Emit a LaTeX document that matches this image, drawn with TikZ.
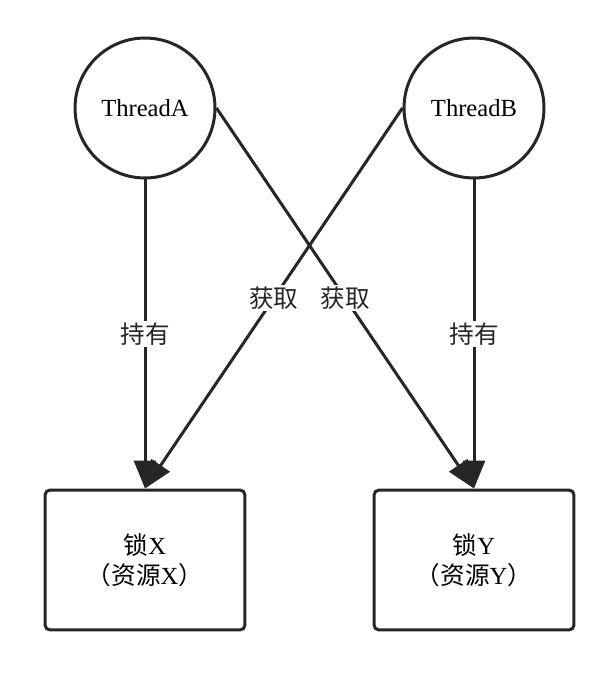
\documentclass[tikz,border=0pt]{standalone}
\usepackage{fontspec}
\usepackage{tikz}
\usetikzlibrary{arrows.meta}
\setmainfont{Liberation Serif}
\newfontfamily\cjk{Noto Sans CJK SC}
\definecolor{ink}{HTML}{262626}

\begin{document}
\begin{tikzpicture}[x=0.02cm, y=-0.02cm,
        thread/.style={circle, draw=ink, line width=0.06cm, minimum size=2.8cm, inner sep=0pt, font=\fontsize{14}{17}\selectfont},
        lockbox/.style={rectangle, draw=ink, line width=0.06cm, rounded corners=0.1cm, minimum width=4cm, minimum height=2.8cm, align=center, font=\fontsize{14}{17}\selectfont},
        arr/.style={draw=ink, line width=0.06cm, -{Triangle[length=0.56cm, width=0.44cm]}},
        lbl/.style={fill=white, inner sep=1pt, text=ink, font=\cjk\fontsize{14}{17}\selectfont}]
        % Fix the picture size
        \useasboundingbox (0,0) rectangle (608,676);
        
        % Threads
        \node[thread] (tA) at (145,108) {ThreadA};
        \node[thread] (tB) at (474,108) {ThreadB};
        
        % Locks
        \node[lockbox] (lockX) at (145,560) {{\cjk 锁}X\\{\cjk （资源}X{\cjk ）}};
        \node[lockbox] (lockY) at (474,560) {{\cjk 锁}Y\\{\cjk （资源}Y{\cjk ）}};
        
        % Held locks
        \draw[arr] (tA) -- node[lbl] {持有} (lockX);
        \draw[arr] (tB) -- node[lbl] {持有} (lockY);
        
        % Wanted locks
        \draw[arr] (tB.west) -- node[lbl] {获取} (lockX.north);
        \draw[arr] (tA.east) -- node[lbl] {获取} (lockY.north);
    \end{tikzpicture}
\end{document}
